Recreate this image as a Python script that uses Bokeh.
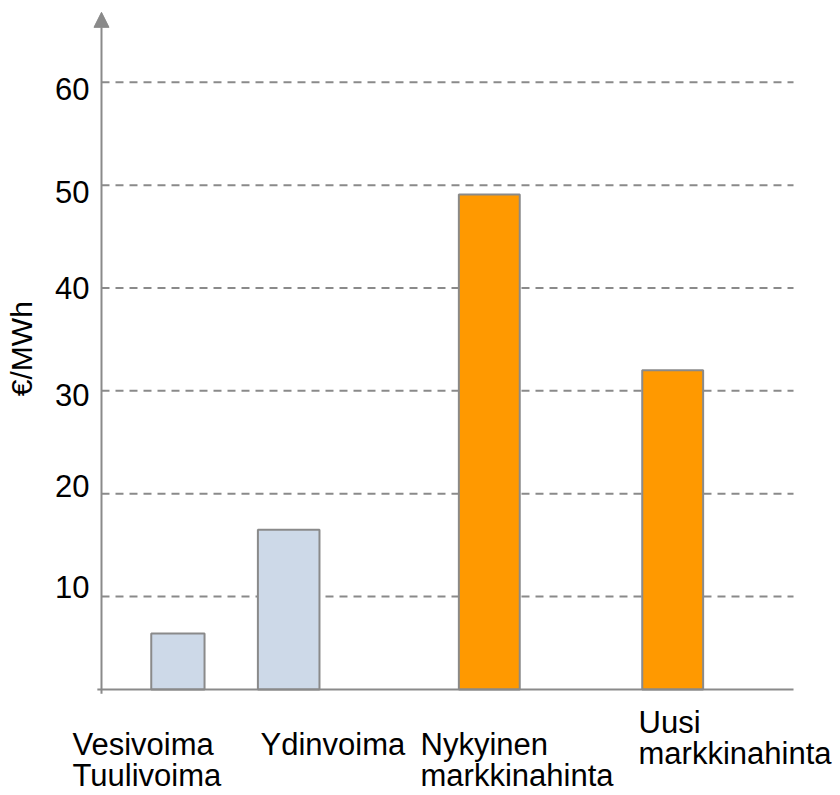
from bokeh.plotting import figure
from bokeh.models import Range1d, Arrow, NormalHead
from bokeh.embed import file_html
from bokeh.resources import INLINE
import math

# ---- data ----
categories = ["Vesivoima\nTuulivoima", "Ydinvoima", "Nykyinen\nmarkkinahinta", "Uusi\nmarkkinahinta"]
values = [6.4, 16.5, 49.1, 32.0]
y_ticks = [10, 20, 30, 40, 50, 60]
y_title = "€/MWh"

# ---- layout / style (not data) ----
bar_x = [1.104, 2.705, 5.604, 8.254]
bar_w = [0.77, 0.89, 0.88, 0.88]
bar_fill = ["#cdd9e8", "#cdd9e8", "#ff9900", "#ff9900"]
label_x = [-0.419, 2.298, 4.610, 7.760]
label_y1 = [-4.40, -4.40, -4.40, -2.22]
line_gap = 3.0
tick_dy = [-10, -8, 4, 0, 7, 7]   # pixel nudges of the tick texts
y_base = 0.96
GRAY = "#8a8a8a"
FONT = "Liberation Sans"

p = figure(width=840, height=795, output_backend="svg", toolbar_location=None,
           x_range=Range1d(-1.4595, 10.679), y_range=Range1d(-9.343, 67.95),
           min_border_left=0, min_border_right=0, min_border_top=0, min_border_bottom=0)
p.outline_line_color = None
p.background_fill_color = "white"
p.border_fill_color = "white"
p.xaxis.visible = False
p.yaxis.visible = False
p.xgrid.visible = False
p.ygrid.visible = False

# dashed grid lines
p.segment(x0=[0] * len(y_ticks), x1=[10] * len(y_ticks), y0=y_ticks, y1=y_ticks,
          line_color=GRAY, line_width=2, line_dash="8 6")

# tick labels
p.text(x=[-0.173] * len(y_ticks), y=y_ticks, text=[str(t) for t in y_ticks],
       y_offset=tick_dy, text_font=dict(value=FONT), text_font_size="31px",
       text_color="black", text_align="right", text_baseline="middle")

# bars
p.vbar(x=bar_x, top=values, bottom=y_base, width=bar_w, fill_color=bar_fill,
       line_color=GRAY, line_width=2)

# x baseline
p.add_layout(Arrow(end=None, x_start=-0.06, y_start=y_base, x_end=10, y_end=y_base,
                   line_color=GRAY, line_width=2))
# y axis with arrow head
p.add_layout(Arrow(end=NormalHead(size=15, fill_color=GRAY, line_color=GRAY, line_width=1),
                   x_start=0, y_start=0.55, x_end=0, y_end=66.8,
                   line_color=GRAY, line_width=2))

# category labels
lx, ly, lt = [], [], []
for cat, x0, y0 in zip(categories, label_x, label_y1):
    for i, line in enumerate(cat.split("\n")):
        lx.append(x0)
        ly.append(y0 - i * line_gap)
        lt.append(line)
p.text(x=lx, y=ly, text=lt, text_font=dict(value=FONT), text_font_size="31px",
       text_color="black", text_align="left", text_baseline="alphabetic")

# y title
p.text(x=[-1.156], y=[34.1], text=[y_title], angle=math.pi / 2,
       text_font=dict(value=FONT), text_font_size="30px", text_color="black",
       text_align="center", text_baseline="middle")

open("out.html", "w").write(file_html(p, INLINE))
